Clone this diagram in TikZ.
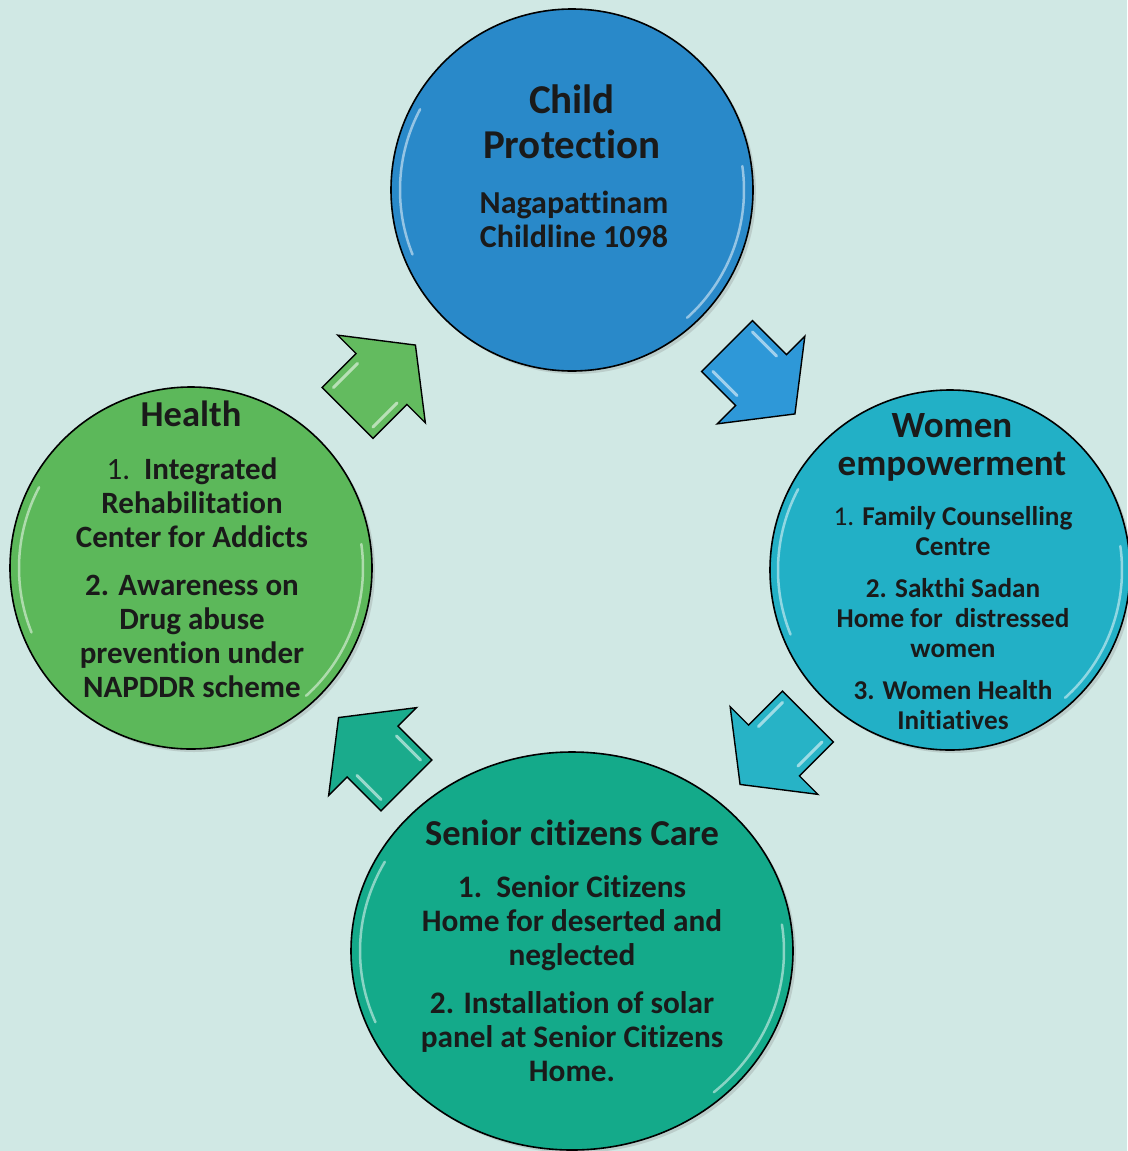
\documentclass[tikz,border=0pt]{standalone}
\usepackage{fontspec}
\setmainfont{Carlito}[Ligatures=NoCommon]
\usetikzlibrary{positioning, calc, shapes.geometric, shadows}
\definecolor{paper}{RGB}{208,232,228}
\definecolor{childblue}{RGB}{41,137,201}
\definecolor{womencyan}{RGB}{34,176,198}
\definecolor{seniorteal}{RGB}{20,170,138}
\definecolor{healthgreen}{RGB}{92,184,90}
\definecolor{arrowblue}{RGB}{46,152,216}
\definecolor{arrowcyan}{RGB}{39,179,198}
\definecolor{arrowteal}{RGB}{26,171,140}
\definecolor{arrowgreen}{RGB}{99,187,95}
\definecolor{ink}{RGB}{26,26,26}
\tikzset{
  bubble/.style={circle, draw=black, line width=1.6pt, inner sep=0pt, minimum size=362pt,
    drop shadow={opacity=.25, shadow xshift=3pt, shadow yshift=-3pt}},
  rim/.style={white, opacity=.5, line width=2.5pt, line cap=round},
  heading/.style={font=\bfseries\fontsize{36.5}{38}\selectfont, text=ink, align=center, anchor=base, inner sep=0pt},
  items/.style={font=\bfseries\fontsize{31.3}{34}\selectfont, text=ink, align=center, anchor=base, inner sep=0pt},
  gleam/.style={white, opacity=.55, line width=3pt, line cap=round},
  pics/blockarrow/.style={
    code={
      \draw[line width=1.4pt, line join=miter, pic actions]
        (-48,-36) -- (0,-36) -- (0,-62) -- (48,0) -- (0,62) -- (0,36) -- (-48,36) -- cycle;
      \draw[gleam] (-40,-28) -- (-6,-28);
      \draw[gleam] (-40,28) -- (-6,28);
    }
  },
}

\begin{document}
\begin{tikzpicture}[x=1pt, y=-1pt]
  \useasboundingbox (0,0) rectangle (1127,1151);
  \fill[paper] (0,0) rectangle (1127,1151);

  % the four circles
  \node[bubble, fill=childblue] (child) at (572,190) {};
  \node[bubble, fill=womencyan, minimum size=360pt] (women) at (950,570) {};
  \node[bubble, ellipse, fill=seniorteal, minimum width=442pt, minimum height=398pt] (senior) at (572,951) {};
  \node[bubble, fill=healthgreen] (health) at (191,568) {};

  \foreach \c in {child, women, health} {
    \draw[rim] ($(\c)+(158:172)$) arc[start angle=158, end angle=208, radius=172];
    \draw[rim] ($(\c)+(-8:172)$) arc[start angle=-8, end angle=48, radius=172];
  }
  \draw[rim] ($(senior)+({212*cos(158)},{190*sin(158)})$) arc[start angle=158, end angle=208, x radius=212, y radius=190];
  \draw[rim] ($(senior)+({212*cos(-8)},{190*sin(-8)})$) arc[start angle=-8, end angle=48, x radius=212, y radius=190];

  % texts (base = last line)
  \node[heading, font=\bfseries\fontsize{41}{45}\selectfont] (childT) at ($(child)+(0,-32)$) {Child\\Protection};
  \node[items, font=\bfseries\fontsize{32}{34}\selectfont] (childB) at ($(child)+(2,57)$) {Nagapattinam\\Childline 1098};

  \node[heading, font=\bfseries\fontsize{37}{38}\selectfont] (womenT) at ($(women)+(2,-95)$) {Women\\empowerment};
  \node[items, font=\bfseries\fontsize{27.2}{30}\selectfont] (womenB) at ($(women)+(3,159)$)
    {{\mdseries 1.} Family Counselling\\Centre\\[12pt]
     2. Sakthi Sadan\\Home for\ \ distressed\\women\\[12pt]
     3. Women Health\\Initiatives};

  \node[heading] (seniorT) at ($(senior)+(0,-106)$) {Senior citizens Care};
  \node[items] (seniorB) at ($(senior)+(0,130)$)
    {1.\ \ Senior Citizens\\Home for deserted and\\neglected\\[14pt]
     2. Installation of solar\\panel at Senior Citizens\\Home.};

  \node[heading] (healthT) at ($(health)+(0,-142)$) {Health};
  \node[items, font=\bfseries\fontsize{31}{34}\selectfont] (healthB) at ($(health)+(1,129)$)
    {{\mdseries 1.}\ \ Integrated\\Rehabilitation\\Center for Addicts\\[14pt]
     2. Awareness on\\Drug abuse\\prevention under\\NAPDDR scheme};

  % arrows between the circles
  \pic[fill=arrowblue, rotate=-45] (a1) at ($(child)!.5!(women)$) {blockarrow};
  \pic[fill=arrowcyan, rotate=-135] (a2) at ($(women)!.5!(senior)+(13,-10)$) {blockarrow};
  \pic[fill=arrowteal, rotate=135] (a3) at ($(senior)!.5!(health)+(-9,-8)$) {blockarrow};
  \pic[fill=arrowgreen, rotate=45] (a4) at ($(health)!.5!(child)$) {blockarrow};
\end{tikzpicture}
\end{document}
